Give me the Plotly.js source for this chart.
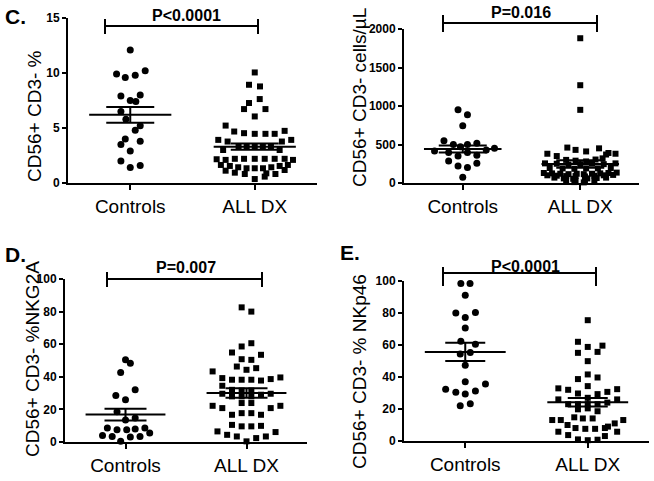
<!DOCTYPE html>
<html><head><meta charset="utf-8">
<script src="https://cdn.plot.ly/plotly-3.0.1.min.js"></script>
<style>html,body{margin:0;padding:0;background:#fff}</style>
</head><body><div id="chart" style="width:654px;height:481px"></div>
<script>
// ---------- DATA ----------
const categories = ['Controls', 'ALL DX'];
const yTitles = ['CD56+ CD3- %', 'CD56+ CD3- cells/µL', 'CD56+ CD3- %NKG2A', 'CD56+ CD3- % NKp46'];
const pValues = ['P<0.0001', 'P=0.016', 'P=0.007', 'P<0.0001'];
const panelLetters = ['C.', '', 'D.', 'E.'];

// Panel C (left): CD56+ CD3- %
const c1CtrlJitter = [0, -0.11, -0.04, 0.04, 0.12, -0.075, 0.08, 0, 0.045, -0.075, -0.035, 0.08, 0.04, -0.04, 0.08, -0.075, 0, -0.075, 0.08, 0];
const c1CtrlValues = [12.1, 9.9, 9.6, 9.8, 10.2, 7.9, 8.0, 7.5, 7.4, 6.5, 5.8, 5.2, 4.8, 4.0, 3.8, 3.5, 2.9, 2.0, 1.6, 1.4];
const c1AllJitter = [0, -0.046, 0.042, 0.04, -0.046, -0.086, 0.086, 0,
  -0.234, -0.165, -0.086, 0, 0.086, 0.16, 0.24,
  -0.293, -0.218, 0.218, 0.293,
  -0.13, -0.065, 0, 0.065, 0.13, -0.254, 0.2,
  -0.306, -0.234, -0.16, -0.086, 0, 0.08, 0.16, 0.24, 0.307,
  -0.272, -0.2, -0.133, -0.066, 0, 0.066, 0.133, 0.2, 0.266,
  -0.234, -0.16, -0.08, 0.093, 0.166, 0.24,
  0, 0.08];
const c1AllValues = [10.05, 8.93, 8.78, 7.63, 7.27, 6.72, 6.72, 6.05,
  5.22, 4.68, 4.53, 4.47, 4.47, 4.47, 4.74,
  3.92, 3.77, 3.77, 3.92,
  3.3, 3.3, 3.3, 3.3, 3.3, 3.0, 3.0,
  2.16, 2.1, 2.2, 2.2, 2.2, 2.2, 2.2, 2.2, 2.1,
  1.64, 1.55, 1.43, 1.34, 1.34, 1.34, 1.43, 1.55, 1.64,
  1.12, 0.94, 0.82, 0.88, 0.82, 1.18,
  0.36, 0.58];
const c1Mean = [6.2, 3.3];
const c1Sem = [0.72, 0.28];

// Panel C (right): CD56+ CD3- cells/µL
const c2CtrlJitter = [-0.04, 0.04, 0.0, -0.16, -0.08, -0.02, 0.04, 0.12, -0.24, 0.2, 0.27, -0.12, 0.04, -0.04, 0.12, -0.12, 0.12, -0.04, 0.04, 0.0];
const c2CtrlValues = [950, 885, 745, 550, 500, 470, 500, 515, 415, 430, 450, 395, 395, 350, 360, 285, 255, 220, 200, 75];
const c2AllJitter = [0, 0, 0,
  -0.11, -0.04, 0.05, 0.16, 0.22, -0.28, -0.2, 0.24, 0.3, 0.19,
  -0.12, 0.13, -0.04, 0.05,
  -0.3, -0.2, -0.1, 0.0, 0.1, 0.2, 0.3,
  -0.26, -0.15, -0.05, 0.05, 0.15, 0.26,
  -0.31, -0.24, -0.17, -0.1, -0.03, 0.03, 0.1, 0.17, 0.24, 0.31,
  -0.28, -0.2, -0.12, -0.04, 0.04, 0.12, 0.2, 0.28,
  -0.22, -0.14, -0.06, 0.06, 0.14, 0.22,
  -0.12, -0.04, 0.04, 0.12,
  -0.05, 0.03];
const c2AllValues = [1880, 1270, 950,
  460, 430, 410, 450, 370, 380, 350, 390, 380, 320,
  300, 305, 290, 280,
  255, 250, 240, 245, 250, 245, 255,
  195, 190, 185, 190, 190, 195,
  130, 125, 120, 115, 120, 115, 120, 125, 130, 135,
  100, 95, 90, 90, 85, 95, 100, 105,
  70, 60, 55, 60, 65, 70,
  35, 30, 30, 35,
  12, 8];
const c2Mean = [441, 247];
const c2Sem = [45, 50];

// Panel D: CD56+ CD3- %NKG2A
const dCtrlJitter = [0.0, 0.04, -0.04, 0.08, -0.08, 0.0, -0.07, 0.0, 0.08, -0.15, -0.07, 0.01, 0.08, 0.16, -0.19, -0.11, 0.04, 0.12, 0.2, -0.04];
const dCtrlValues = [50.4, 48.3, 42.7, 32, 28.5, 25.9, 18.5, 13.5, 14.7, 8.6, 7.5, 7.5, 8.0, 8.6, 4.0, 3.4, 3.1, 3.4, 5.5, 0.4];
const dAllJitter = [-0.04, 0.04, 0.04, -0.04, -0.12, 0.12, -0.04, 0.04, -0.08, 0.08, 0.0, -0.28,
  -0.2, -0.12, -0.04, 0.04, 0.12, 0.2, 0.28,
  -0.2, -0.2, -0.12, -0.04, 0.04, 0.12, 0.2, -0.12, -0.04, 0.04,
  -0.04, 0.04, -0.28, -0.2, -0.12, -0.04, 0.04, 0.12, 0.2, 0.28,
  -0.12, -0.04, 0.04, 0.12,
  -0.24, -0.16, -0.08, 0.0, 0.08, 0.16, 0.24];
const dAllValues = [82.6, 80.0, 60.6, 58.6, 54.9, 53.5, 50.8, 50.4, 46.3, 45.3, 44.3, 43.3,
  39.2, 38.2, 38.2, 38.2, 37.7, 38.6, 39.6,
  34.5, 29.6, 32.0, 31.6, 31.6, 29.0, 29.6, 28.0, 28.0, 28.0,
  23.9, 23.9, 22.2, 20.8, 16.7, 17.7, 17.7, 16.7, 20.8, 22.2,
  10.5, 9.6, 9.6, 9.9,
  6.5, 4.4, 3.4, 0.4, 2.4, 3.4, 6.1];
const dMean = [16.8, 30.0];
const dSem = [3.6, 2.9];

// Panel E: CD56+ CD3- % NKp46
const eCtrlJitter = [-0.036, 0.039, 0, -0.077, 0.083, 0, 0, -0.036, 0.083, -0.041, 0.041, 0, 0, 0.165, -0.16, -0.077, 0, 0.083, -0.041, 0.041];
const eCtrlValues = [98.4, 98.4, 91.1, 80.0, 80.3, 77.2, 70.7, 62.4, 60.5, 54.3, 55.3, 47.4, 37.0, 35.6, 32.4, 30.4, 29.3, 31.2, 22.0, 23.3];
const eAllJitter = [0, -0.08, -0.08, 0.0, 0.08, 0.12, 0.0, 0.0, -0.08, 0.08,
  -0.24, -0.16, -0.08, 0.0, 0.08, 0.16, 0.24,
  -0.24, -0.16, -0.08, 0.0, 0.0, 0.08, 0.16, 0.24,
  -0.08, 0.0, 0.08,
  -0.29, -0.22, -0.11, -0.04, 0.04, 0.22, 0.29,
  -0.165, 0.165, -0.1, -0.02, 0.06, 0.14,
  -0.24, -0.16, 0.24, -0.08, 0.0, 0.08, 0.14];
const eAllValues = [75.5, 62.0, 55.1, 58.8, 55.7, 59.6, 49.9, 41.6, 38.7, 39.7,
  32.9, 32.0, 29.7, 34.3, 29.3, 30.7, 32.4,
  26.0, 23.0, 23.0, 27.0, 23.0, 23.0, 24.0, 26.0,
  19.8, 20.4, 18.6,
  13.1, 13.1, 14.8, 14.1, 14.1, 11.0, 13.1,
  10.0, 9.0, 8.1, 7.6, 7.6, 8.1,
  5.8, 3.7, 5.8, 1.0, 0.5, 0.8, 3.1];
const eMean = [55.7, 24.2];
const eSem = [5.7, 2.6];

// ---------- LAYOUT HELPERS ----------
const FONT = 'Arial, "Liberation Sans", Helvetica, sans-serif';
const W = 654, H = 481;
const fx = p => p / W;
const fy = p => 1 - p / H;

const panels = [
  {box: [68, 317, 18, 183], yRange: [0, 15], dtick: 5, cj: c1CtrlJitter, cv: c1CtrlValues, aj: c1AllJitter, av: c1AllValues, mean: c1Mean, sem: c1Sem, cap: 24,
   titlePos: [34, 116], letterPos: [15, 16], pPos: [186, 15], bracket: [105, 258, 26, 19, 34]},
  {box: [404, 639, 29, 183], yRange: [0, 2000], dtick: 500, cj: c2CtrlJitter, cv: c2CtrlValues, aj: c2AllJitter, av: c2AllValues, mean: c2Mean, sem: c2Sem, cap: 24,
   titlePos: [359, 98], letterPos: null, pPos: [521, 12], bracket: [443, 597, 23, 15, 32]},
  {box: [65, 307, 279, 442], yRange: [0, 100], dtick: 20, cj: dCtrlJitter, cv: dCtrlValues, aj: dAllJitter, av: dAllValues, mean: dMean, sem: dSem, cap: 21,
   titlePos: [32, 359], letterPos: [15, 254], pPos: [186, 267], bracket: [107, 262, 279, 272, 287]},
  {box: [404, 649, 281, 441], yRange: [0, 100], dtick: 20, cj: eCtrlJitter, cv: eCtrlValues, aj: eAllJitter, av: eAllValues, mean: eMean, sem: eSem, cap: 20,
   titlePos: [359, 372], letterPos: [350, 252], pPos: [525, 266], bracket: [443, 596, 273, 267, 286]}
];

const data = [];
const layout = {
  width: W, height: H, margin: {l: 0, r: 0, t: 0, b: 0},
  paper_bgcolor: '#fff', plot_bgcolor: '#fff', showlegend: false,
  font: {family: FONT, color: '#000'},
  shapes: [], annotations: []
};

panels.forEach((p, i) => {
  const n = i === 0 ? '' : String(i + 1);
  const xa = 'x' + n, ya = 'y' + n;
  const [x0, x1, yTop, yBot] = p.box;
  layout['xaxis' + n] = {
    domain: [fx(x0), fx(x1)], range: [0.5, 2.5], anchor: ya,
    tickvals: [1, 2], ticktext: categories,
    showline: true, linewidth: 2, linecolor: '#000', mirror: false,
    ticks: 'outside', ticklen: 5, tickwidth: 2, tickcolor: '#000',
    tickfont: {family: FONT, size: 19, color: '#000'},
    showgrid: false, zeroline: false, fixedrange: true
  };
  layout['yaxis' + n] = {
    domain: [fy(yBot), fy(yTop)], range: p.yRange, anchor: xa,
    dtick: p.dtick, tick0: 0,
    showline: true, linewidth: 2, linecolor: '#000',
    ticks: 'outside', ticklen: 4, tickwidth: 2, tickcolor: '#000',
    tickfont: {family: FONT, size: 12, color: '#000', weight: 'bold'},
    showgrid: false, zeroline: false, fixedrange: true
  };
  data.push({
    type: 'scatter', mode: 'markers', xaxis: xa, yaxis: ya, cliponaxis: false,
    x: p.cj.map(j => 1 + j), y: p.cv,
    marker: {symbol: 'circle', size: 7, color: '#000'}, hoverinfo: 'skip'
  });
  data.push({
    type: 'scatter', mode: 'markers', xaxis: xa, yaxis: ya, cliponaxis: false,
    x: p.aj.map(j => 2 + j), y: p.av,
    marker: {symbol: 'square', size: 6, color: '#000'}, hoverinfo: 'skip'
  });
  data.push({
    type: 'scatter', mode: 'markers', xaxis: xa, yaxis: ya, cliponaxis: false,
    x: [1, 2], y: p.mean,
    marker: {size: 1, color: 'rgba(0,0,0,0)'},
    error_x: {type: 'constant', value: 0.33, width: 0, thickness: 2, color: '#000'},
    error_y: {type: 'data', array: p.sem, width: p.cap, thickness: 2, color: '#000'},
    hoverinfo: 'skip'
  });
  // significance bracket
  const [bx0, bx1, by, bt0, bt1] = p.bracket;
  const ln = {color: '#000', width: 2};
  layout.shapes.push({type: 'line', xref: 'paper', yref: 'paper', x0: fx(bx0), x1: fx(bx1), y0: fy(by), y1: fy(by), line: ln});
  layout.shapes.push({type: 'line', xref: 'paper', yref: 'paper', x0: fx(bx0), x1: fx(bx0), y0: fy(bt0), y1: fy(bt1), line: ln});
  layout.shapes.push({type: 'line', xref: 'paper', yref: 'paper', x0: fx(bx1), x1: fx(bx1), y0: fy(bt0), y1: fy(bt1), line: ln});
  layout.annotations.push({
    xref: 'paper', yref: 'paper', x: fx(p.pPos[0]), y: fy(p.pPos[1]), xanchor: 'center', yanchor: 'middle',
    text: '<b>' + pValues[i] + '</b>', showarrow: false, font: {family: FONT, size: 16, color: '#000'}
  });
  layout.annotations.push({
    xref: 'paper', yref: 'paper', x: fx(p.titlePos[0]), y: fy(p.titlePos[1]), xanchor: 'center', yanchor: 'middle',
    text: yTitles[i], textangle: -90, showarrow: false, font: {family: FONT, size: 19, color: '#000'}
  });
  if (panelLetters[i]) {
    layout.annotations.push({
      xref: 'paper', yref: 'paper', x: fx(p.letterPos[0]), y: fy(p.letterPos[1]), xanchor: 'center', yanchor: 'middle',
      text: '<b>' + panelLetters[i] + '</b>', showarrow: false, font: {family: FONT, size: 21, color: '#000'}
    });
  }
});

Plotly.newPlot('chart', data, layout, {displayModeBar: false, staticPlot: true});
</script>
</body></html>
